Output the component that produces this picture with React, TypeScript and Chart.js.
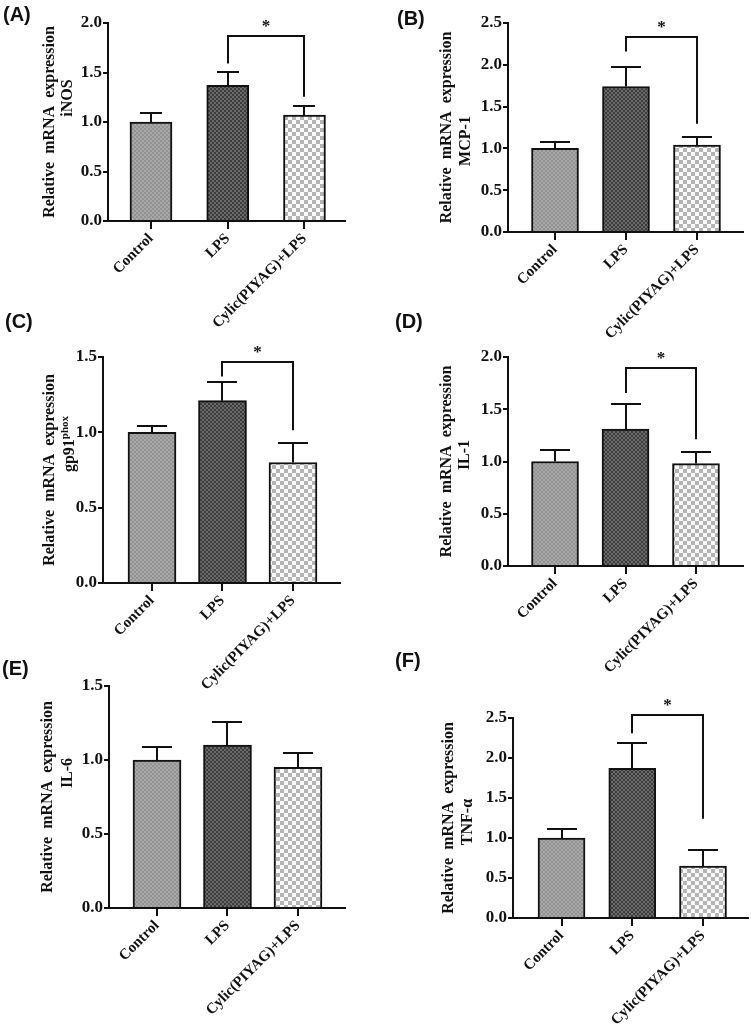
import React, { useEffect, useRef } from "react";
import { Chart, registerables } from "chart.js";

Chart.register(...registerables);

// ---------------- data ----------------
const groups = ["Control", "LPS", "Cylic(PIYAG)+LPS"];

const inosMean = [1.0, 1.37, 1.07];
const inosSD = [0.09, 0.135, 0.095];
const mcp1Mean = [1.0, 1.74, 1.04];
const mcp1SD = [0.08, 0.23, 0.1];
const gp91Mean = [1.0, 1.21, 0.8];
const gp91SD = [0.04, 0.125, 0.13];
const il1Mean = [1.0, 1.31, 0.98];
const il1SD = [0.11, 0.24, 0.11];
const il6Mean = [1.0, 1.1, 0.95];
const il6SD = [0.085, 0.155, 0.1];
const tnfMean = [1.0, 1.87, 0.65];
const tnfSD = [0.11, 0.32, 0.2];

const yMaxes = [2.0, 2.5, 1.5, 2.0, 1.5, 2.5];
const yStep = 0.5;

// significance brackets between LPS and Cylic: [top, left leg end, right leg end]
const inosBracket = [1.87, 1.59, 1.255];
const mcp1Bracket = [2.33, 2.16, 1.295];
const gp91Bracket = [1.47, 1.37, 1.013];
const il1Bracket = [1.895, 1.655, 1.214];
const tnfBracket = [2.54, 2.31, 1.24];

const geneLabels = ["iNOS", "MCP-1", "gp91|phox", "IL-1", "IL-6", "TNF-α"];
const panelTags = ["(A)", "(B)", "(C)", "(D)", "(E)", "(F)"];
const yTitle = "Relative mRNA expression";

// ---------------- layout (page pixels) ----------------
type Layout = {
  left: number; top: number; w: number; h: number;
  axisLeft: number; axisTop: number; axisRight: number; axisBottom: number;
  xMin: number; xMax: number; barW: number; capW: number;
  t1x: number; t2x: number; t2y: number; tagX: number; tagY: number;
};

const layouts: Layout[] = [
  { left: 0, top: 0, w: 375, h: 360, axisLeft: 108, axisTop: 23, axisRight: 345, axisBottom: 221, xMin: -0.56, xMax: 2.528, barW: 42, capW: 22, t1x: 50, t2x: 68, t2y: 98, tagX: 3, tagY: 15 },
  { left: 375, top: 0, w: 376, h: 360, axisLeft: 508, axisTop: 23, axisRight: 743, axisBottom: 232, xMin: -0.662, xMax: 2.648, barW: 47, capW: 30, t1x: 447, t2x: 466, t2y: 141, tagX: 397, tagY: 19 },
  { left: 0, top: 305, w: 375, h: 400, axisLeft: 103, axisTop: 357, axisRight: 340, axisBottom: 583, xMin: -0.695, xMax: 2.667, barW: 48, capW: 30, t1x: 50, t2x: 70, t2y: 444, tagX: 5, tagY: 322 },
  { left: 375, top: 305, w: 376, h: 400, axisLeft: 508, axisTop: 357, axisRight: 743, axisBottom: 566, xMin: -0.667, xMax: 2.667, barW: 47, capW: 30, t1x: 447, t2x: 465, t2y: 455, tagX: 395, tagY: 322 },
  { left: 0, top: 645, w: 375, h: 386, axisLeft: 109, axisTop: 686, axisRight: 345, axisBottom: 908, xMin: -0.681, xMax: 2.667, barW: 48, capW: 30, t1x: 48, t2x: 68, t2y: 773, tagX: 2, tagY: 669 },
  { left: 375, top: 645, w: 376, h: 386, axisLeft: 513, axisTop: 718, axisRight: 748, axisBottom: 918, xMin: -0.686, xMax: 2.636, barW: 47, capW: 30, t1x: 449, t2x: 468, t2y: 822, tagX: 395, tagY: 661 },
];

const panels = [
  { means: inosMean, sd: inosSD, bracket: inosBracket },
  { means: mcp1Mean, sd: mcp1SD, bracket: mcp1Bracket },
  { means: gp91Mean, sd: gp91SD, bracket: gp91Bracket },
  { means: il1Mean, sd: il1SD, bracket: il1Bracket },
  { means: il6Mean, sd: il6SD, bracket: null as number[] | null },
  { means: tnfMean, sd: tnfSD, bracket: tnfBracket },
];

const SERIF = "'Liberation Serif', 'Times New Roman', serif";
const SANS = "'Liberation Sans', Arial, sans-serif";
const INK = "#111";

function makePattern(ctx: CanvasRenderingContext2D, c1: string, c2: string, cell: number) {
  const off = document.createElement("canvas");
  off.width = cell * 2;
  off.height = cell * 2;
  const o = off.getContext("2d")!;
  o.fillStyle = c1;
  o.fillRect(0, 0, cell * 2, cell * 2);
  o.fillStyle = c2;
  o.fillRect(0, 0, cell, cell);
  o.fillRect(cell, cell, cell, cell);
  return ctx.createPattern(off, "repeat")!;
}

function Panel({ idx }: { idx: number }) {
  const ref = useRef<HTMLCanvasElement>(null);
  const L = layouts[idx];
  useEffect(() => {
    const canvas = ref.current!;
    const ctx = canvas.getContext("2d")!;
    const p = panels[idx];
    const fills = [
      makePattern(ctx, "#a8a8a8", "#929292", 2),
      makePattern(ctx, "#3c3c3c", "#6a6a6a", 2),
      makePattern(ctx, "#fafafa", "#b4b4b4", 4),
    ];

    const annot = {
      id: "annot" + idx,
      afterDatasetsDraw(chart: any) {
        const c = chart.ctx as CanvasRenderingContext2D;
        const xs = chart.scales.x;
        const ys = chart.scales.y;
        c.save();
        c.strokeStyle = INK;
        c.lineWidth = 2;
        c.lineCap = "butt";
        // error bars (upper SD)
        p.means.forEach((m, i) => {
          const x = Math.round(xs.getPixelForValue(i));
          const y0 = ys.getPixelForValue(m);
          const y1 = Math.round(ys.getPixelForValue(m + p.sd[i]));
          c.beginPath();
          c.moveTo(x, y0);
          c.lineTo(x, y1);
          c.moveTo(x - L.capW / 2, y1);
          c.lineTo(x + L.capW / 2, y1);
          c.stroke();
        });
        // significance bracket
        if (p.bracket) {
          const lx = Math.round(xs.getPixelForValue(1));
          const rx = Math.round(xs.getPixelForValue(2));
          const ty = Math.round(ys.getPixelForValue(p.bracket[0]));
          const lb = ys.getPixelForValue(p.bracket[1]);
          const rb = ys.getPixelForValue(p.bracket[2]);
          c.beginPath();
          c.moveTo(lx, lb);
          c.lineTo(lx, ty);
          c.lineTo(rx, ty);
          c.lineTo(rx, rb);
          c.lineJoin = "miter";
          c.stroke();
          c.fillStyle = INK;
          c.font = `bold 17px ${SERIF}`;
          c.textAlign = "center";
          c.textBaseline = "alphabetic";
          c.fillText("*", (lx + rx) / 2, ty - 5);
        }
        c.restore();
      },
      afterDraw(chart: any) {
        const c = chart.ctx as CanvasRenderingContext2D;
        const area = chart.chartArea;
        const cy = (area.top + area.bottom) / 2;
        c.save();
        c.fillStyle = INK;
        // y title line 1
        c.save();
        c.translate(L.t1x - L.left, cy);
        c.rotate(-Math.PI / 2);
        c.font = `bold 16px ${SERIF}`;
        (c as any).wordSpacing = "4px";
        c.textAlign = "center";
        c.textBaseline = "middle";
        c.fillText(yTitle, 0, 0);
        c.restore();
        // y title line 2
        c.save();
        c.translate(L.t2x - L.left, L.t2y - L.top);
        c.rotate(-Math.PI / 2);
        c.textBaseline = "middle";
        const gl = geneLabels[idx];
        if (gl.includes("|")) {
          const [main, sup] = gl.split("|");
          c.font = `bold 16px ${SERIF}`;
          const w1 = c.measureText(main).width;
          c.font = `bold 11px ${SERIF}`;
          const w2 = c.measureText(sup).width;
          const x0 = -(w1 + w2) / 2;
          c.textAlign = "left";
          c.font = `bold 16px ${SERIF}`;
          c.fillText(main, x0, 0);
          c.font = `bold 11px ${SERIF}`;
          c.fillText(sup, x0 + w1, -5);
        } else {
          c.font = `bold 16px ${SERIF}`;
          c.textAlign = "center";
          c.fillText(gl, 0, 0);
        }
        c.restore();
        // panel tag
        c.font = `bold 20px ${SANS}`;
        c.textAlign = "left";
        c.textBaseline = "middle";
        c.fillText(panelTags[idx], L.tagX - L.left, L.tagY - L.top);
        c.restore();
      },
    };

    const chart = new Chart(canvas, {
      type: "bar",
      data: {
        datasets: [
          {
            data: p.means.map((m, i) => ({ x: i, y: m })),
            backgroundColor: fills as any,
            borderColor: INK,
            borderWidth: 2,
            barThickness: L.barW,
          },
        ],
      },
      options: {
        responsive: false,
        animation: false,
        devicePixelRatio: 1,
        layout: {
          padding: {
            left: 0,
            top: L.axisTop - L.top,
            right: L.left + L.w - L.axisRight,
            bottom: 0,
          },
        },
        plugins: {
          legend: { display: false },
          tooltip: { enabled: false },
          title: { display: false },
        },
        scales: {
          x: {
            type: "linear",
            min: L.xMin,
            max: L.xMax,
            offset: false,
            afterBuildTicks: (s: any) => {
              s.ticks = groups.map((_, i) => ({ value: i }));
            },
            afterFit: (s: any) => {
              s.height = L.top + L.h - L.axisBottom;
            },
            ticks: {
              callback: (v: any) => groups[Number(v)] ?? "",
              autoSkip: false,
              maxRotation: 45,
              minRotation: 45,
              color: INK,
              padding: 1,
              font: { family: SERIF, size: 15, weight: "bold" },
            },
            grid: {
              display: true,
              offset: false,
              drawOnChartArea: false,
              drawTicks: true,
              tickLength: 8,
              color: INK,
              lineWidth: 2,
            },
            border: { display: true, color: INK, width: 2 },
          } as any,
          y: {
            type: "linear",
            min: 0,
            max: yMaxes[idx],
            afterFit: (s: any) => {
              s.width = L.axisLeft - L.left;
            },
            ticks: {
              stepSize: yStep,
              callback: (v: any) => Number(v).toFixed(1),
              color: INK,
              padding: 1,
              font: { family: SERIF, size: 17, weight: "bold" },
            },
            grid: {
              display: true,
              drawOnChartArea: false,
              drawTicks: true,
              tickLength: 5,
              color: INK,
              lineWidth: 2,
            },
            border: { display: true, color: INK, width: 2 },
          } as any,
        },
      },
      plugins: [annot],
    });
    return () => chart.destroy();
  }, [idx]);

  return (
    <canvas
      ref={ref}
      width={L.w}
      height={L.h}
      style={{ position: "absolute", left: L.left, top: L.top, width: L.w, height: L.h }}
    />
  );
}

export default function App() {
  useEffect(() => {
    document.body.style.margin = "0";
  }, []);
  return (
    <div style={{ position: "absolute", left: 0, top: 0, width: 751, height: 1031, background: "#fff", overflow: "hidden" }}>
      {layouts.map((_, i) => (
        <Panel key={i} idx={i} />
      ))}
    </div>
  );
}
